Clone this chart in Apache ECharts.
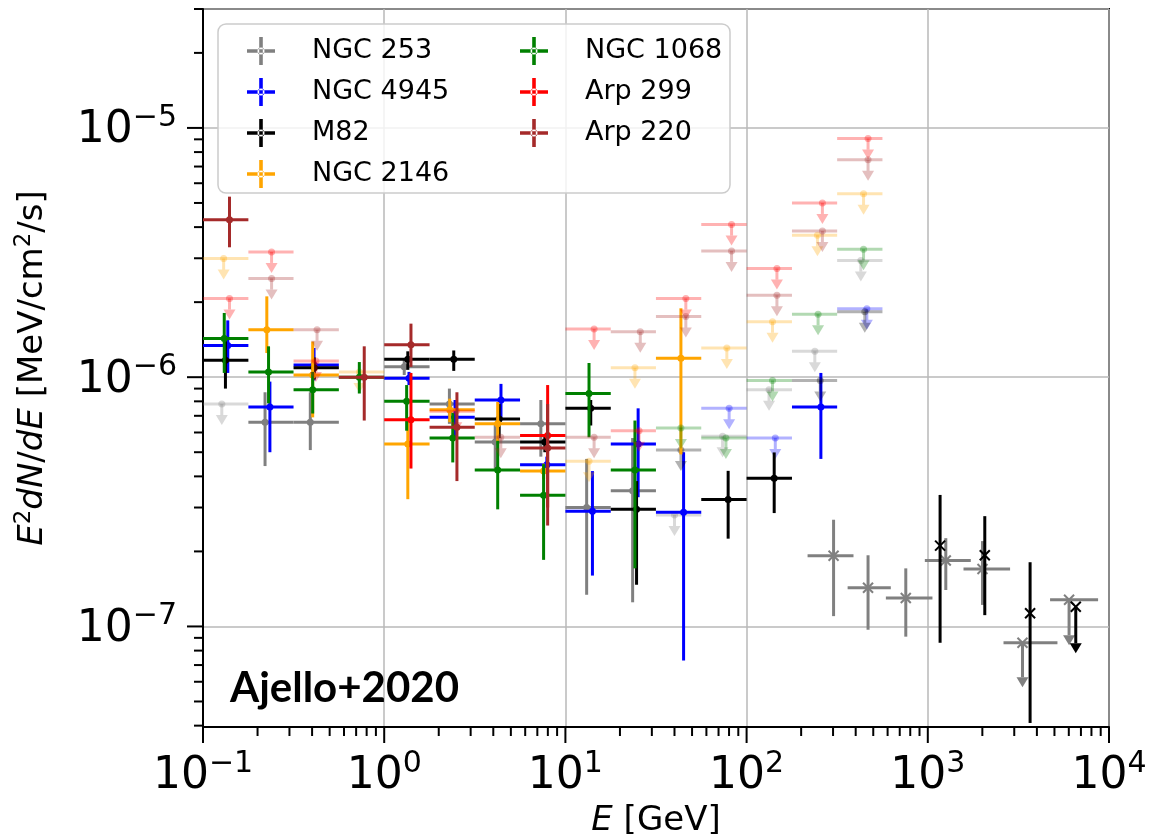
<!DOCTYPE html>
<html><head><meta charset="utf-8">
<script src="https://cdn.jsdelivr.net/npm/echarts@6.0.0/dist/echarts.min.js"></script>
<style>html,body{margin:0;padding:0;background:#fff}#c{width:1152px;height:834px}</style>
</head><body><div id="c"></div>
<script>
// ---------------- data ----------------
const seriesNames  = ['NGC 253','NGC 4945','M82','NGC 2146','NGC 1068','Arp 299','Arp 220'];
const seriesColors = ['#808080','#0000ff','#000000','#ffa500','#008000','#ff0000','#a52a2a'];
// Fermi-LAT energy bin edges [GeV]
const binEdges = [0.1,0.178,0.316,0.562,1,1.78,3.16,5.62,10,17.8,31.6,56.2,100,178,316,562];

// detections: [E (GeV), bin index, E2dN/dE, lower, upper]
const ngc253Det = [[0.220,1,6.6e-7,4.4e-7,8.7e-7],[0.391,2,6.6e-7,5.1e-7,8.7e-7],[1.29,4,1.10e-6,1.02e-6,1.18e-6],
  [2.29,5,7.8e-7,6.5e-7,9.0e-7],[4.10,6,5.5e-7,4.3e-7,6.5e-7],[7.32,7,6.5e-7,4.8e-7,8.1e-7],
  [13.1,8,3.0e-7,1.34e-7,4.7e-7],[23.5,9,3.5e-7,1.25e-7,5.7e-7]];
// upper limits: [E (GeV), bin index, E2dN/dE]
const ngc253UL = [[0.127,0,7.8e-7],[40,10,2.8e-7],[73.7,11,5.8e-7],[133,12,8.9e-7],[238,13,1.27e-6],[427,14,2.94e-6]];

const ngc4945Det = [[0.137,0,1.34e-6,1.04e-6,1.69e-6],[0.234,1,7.6e-7,5.0e-7,9.6e-7],[0.41,2,1.12e-6,9.7e-7,1.31e-6],
  [1.37,4,9.9e-7,9.3e-7,1.05e-6],[2.46,5,6.9e-7,5.7e-7,8.1e-7],[4.41,6,8.1e-7,6.8e-7,9.4e-7],
  [7.9,7,4.45e-7,4.1e-7,4.8e-7],[14.1,8,2.9e-7,1.6e-7,4.2e-7],[25.2,9,5.4e-7,3.3e-7,7.5e-7],
  [44.9,10,2.87e-7,7.3e-8,5.0e-7],[257,13,7.6e-7,4.7e-7,1.04e-6]];
const ngc4945UL = [[80.1,11,7.5e-7],[144,12,5.7e-7],[461,14,1.88e-6]];

const m82Det = [[0.133,0,1.17e-6,9.0e-7,1.45e-6],[0.411,2,1.09e-6,9.8e-7,1.2e-6],[1.35,4,1.18e-6,1.07e-6,1.27e-6],
  [2.42,5,1.18e-6,1.06e-6,1.28e-6],[4.31,6,6.8e-7,5.7e-7,7.8e-7],[7.7,7,5.5e-7,5.0e-7,5.9e-7],
  [13.8,8,7.5e-7,6.4e-7,8.1e-7],[24.7,9,2.95e-7,1.47e-7,3.83e-7],[79.1,11,3.23e-7,2.25e-7,4.21e-7],
  [142,12,3.93e-7,2.85e-7,4.99e-7]];
const m82UL = [[43.4,10,5.1e-7],[255,13,9.7e-7],[449,14,1.83e-6]];

const ngc2146Det = [[0.225,1,1.55e-6,1.25e-6,2.11e-6],[0.403,2,1.02e-6,6.9e-7,1.39e-6],[1.35,4,5.4e-7,3.24e-7,6.9e-7],
  [2.3,5,7.4e-7,6.6e-7,8.2e-7],[4.23,6,6.5e-7,5.5e-7,7.95e-7],[7.58,7,4.2e-7,3.9e-7,4.5e-7],
  [43.4,10,1.19e-6,4.9e-7,1.89e-6]];
const ngc2146UL = [[0.130,0,2.99e-6],[0.73,3,1.05e-6],[13.5,8,4.6e-7],[24.2,9,1.09e-6],[77.8,11,1.31e-6],
  [139,12,1.67e-6],[246,13,3.71e-6],[442,14,5.44e-6]];

const ngc1068Det = [[0.131,0,1.43e-6,1.04e-6,1.81e-6],[0.230,1,1.05e-6,7.85e-7,1.33e-6],[0.403,2,8.9e-7,7.15e-7,1.05e-6],
  [0.729,3,1.0e-6,8.6e-7,1.15e-6],[1.33,4,8.0e-7,6.1e-7,9.3e-7],[2.39,5,5.7e-7,4.55e-7,7.2e-7],
  [4.23,6,4.24e-7,2.95e-7,5.56e-7],[7.58,7,3.36e-7,1.85e-7,4.48e-7],[13.5,8,8.6e-7,5.74e-7,1.14e-6],
  [24.2,9,4.24e-7,1.71e-7,6.7e-7]];
const ngc1068UL = [[43.4,10,6.26e-7],[76.9,11,5.7e-7],[139,12,9.7e-7],[248,13,1.79e-6],[442,14,3.26e-6]];

const arp299Det = [[1.405,4,6.75e-7,4.3e-7,1.04e-6],[7.98,7,5.83e-7,3.0e-7,9.3e-7]];
const arp299UL = [[0.140,0,2.07e-6],[0.239,1,3.18e-6],[0.42,2,1.16e-6],[2.5,5,7.3e-7],[14.4,8,1.56e-6],[25.5,9,6.1e-7],
  [46.2,10,2.07e-6],[82.6,11,4.1e-6],[147,12,2.73e-6],[262,13,5.0e-6],[468,14,9.07e-6]];

const arp220Det = [[0.140,0,4.28e-6,3.32e-6,5.3e-6],[0.776,3,1.0e-6,6.7e-7,1.33e-6],[1.405,4,1.35e-6,1.1e-6,1.64e-6],
  [2.52,5,6.3e-7,3.83e-7,8.7e-7],[7.98,7,5.2e-7,2.54e-7,7.8e-7]];
const arp220UL = [[0.239,1,2.49e-6],[0.426,2,1.55e-6],[4.4,6,5.74e-7],[14.4,8,5.74e-7],[25.9,9,1.52e-6],
  [46.2,10,1.75e-6],[82.6,11,3.21e-6],[147,12,2.13e-6],[262,13,3.86e-6],[468,14,7.45e-6]];

// TeV points (x markers): [E, Elo, Ehi, F, Flo, Fhi]
const ngc253TeV = [[302,217,389,1.92e-7,1.10e-7,2.68e-7],[468,361,625,1.43e-7,9.7e-8,1.93e-7],
  [756,587,1061,1.30e-7,9.1e-8,1.71e-7],[1257,963,1727,1.84e-7,1.40e-7,2.26e-7],[2004,1574,2845,1.70e-7,1.22e-7,2.20e-7]];
// TeV upper limits: [E, Elo, Ehi, F, arrow end]
const ngc253TeVUL = [[3331,2617,5194,8.6e-8,5.7e-8],[6021,4729,8705,1.28e-7,8.4e-8]];
// M82 TeV points: [E, F, Flo, Fhi]
const m82TeV = [[1169,2.11e-7,8.6e-8,3.37e-7],[2063,1.93e-7,1.11e-7,2.77e-7],[3669,1.13e-7,4.1e-8,1.81e-7]];
const m82TeVUL = [[6555,1.2e-7,7.8e-8]];

// axes
const xMin = 0.1, xMax = 1e4, yMin = 3.95e-8, yMax = 3.0e-5;
const xMajorTicks = [0.1,1,10,100,1000,10000];
const xMinorTicks = [0.2,0.3,0.4,0.5,0.6,0.7,0.8,0.9,2,3,4,5,6,7,8,9,20,30,40,50,60,70,80,90,
  200,300,400,500,600,700,800,900,2000,3000,4000,5000,6000,7000,8000,9000];
const yMajorTicks = [1e-7,1e-6,1e-5];
const yMinorTicks = [4e-8,5e-8,6e-8,7e-8,8e-8,9e-8,2e-7,3e-7,4e-7,5e-7,6e-7,7e-7,8e-7,9e-7,
  2e-6,3e-6,4e-6,5e-6,6e-6,7e-6,8e-6,9e-6,2e-5,3e-5];

// ---------------- build ----------------
const FONT = 'DejaVu Sans';
const detList = [ngc253Det, ngc4945Det, m82Det, ngc2146Det, ngc1068Det, arp299Det, arp220Det];
const ulList  = [ngc253UL, ngc4945UL, m82UL, ngc2146UL, ngc1068UL, arp299UL, arp220UL];

function fermiRows(det, ul) {
  const rows = [];
  det.forEach(d => rows.push([d[0], binEdges[d[1]], binEdges[d[1]+1], d[2], d[3], d[4], 0]));
  ul.forEach(u => rows.push([u[0], binEdges[u[1]], binEdges[u[1]+1], u[2], u[2], u[2], 1]));
  return rows;
}

function renderErr(params, api) {
  const E = api.value(0), El = api.value(1), Eh = api.value(2);
  const F = api.value(3), Fl = api.value(4), Fh = api.value(5), kind = api.value(6);
  const c = api.visual('color');
  const p = api.coord([E, F]);
  const op = kind === 1 ? 0.3 : 1;
  const lw = 3;
  const ch = [];
  if (El !== Eh) {
    const a = api.coord([El, F]), b = api.coord([Eh, F]);
    ch.push({type:'line', shape:{x1:a[0], y1:p[1], x2:b[0], y2:p[1]}, style:{stroke:c, lineWidth:lw, opacity:op}});
  }
  if (kind === 0 || kind === 2) {
    const lo = api.coord([E, Fl])[1], hi = api.coord([E, Fh])[1];
    ch.push({type:'line', shape:{x1:p[0], y1:lo, x2:p[0], y2:hi}, style:{stroke:c, lineWidth:lw, opacity:op}});
  } else {
    const end = kind === 1 ? p[1] + 21 : api.coord([E, Fl])[1];
    const head = 10, hw = 6;
    ch.push({type:'line', shape:{x1:p[0], y1:p[1], x2:p[0], y2:end - head}, style:{stroke:c, lineWidth:lw, opacity:op}});
    ch.push({type:'polygon', shape:{points:[[p[0]-hw, end-head],[p[0]+hw, end-head],[p[0], end]]}, style:{fill:c, opacity:op}});
  }
  if (kind <= 1) {
    ch.push({type:'circle', shape:{cx:p[0], cy:p[1], r:3.5}, style:{fill:c, opacity:op}});
  } else {
    const s = 5;
    ch.push({type:'line', shape:{x1:p[0]-s, y1:p[1]-s, x2:p[0]+s, y2:p[1]+s}, style:{stroke:c, lineWidth:2}});
    ch.push({type:'line', shape:{x1:p[0]-s, y1:p[1]+s, x2:p[0]+s, y2:p[1]-s}, style:{stroke:c, lineWidth:2}});
  }
  return {type:'group', children: ch};
}

const series = [];
seriesNames.forEach((name, i) => {
  series.push({
    name, type:'custom', coordinateSystem:'cartesian2d', renderItem: renderErr,
    itemStyle:{color: seriesColors[i]}, encode:{x:[0,1,2], y:[3,4,5]},
    data: fermiRows(detList[i], ulList[i]), silent:true, z: 2
  });
});
const hessRows = ngc253TeV.map(d => [d[0], d[1], d[2], d[3], d[4], d[5], 2])
  .concat(ngc253TeVUL.map(u => [u[0], u[1], u[2], u[3], u[4], u[3], 3]));
series.push({name:'NGC 253 TeV', type:'custom', coordinateSystem:'cartesian2d', renderItem: renderErr,
  itemStyle:{color:'#808080'}, encode:{x:[0,1,2], y:[3,4,5]}, data: hessRows, silent:true, z:2});
const veritasRows = m82TeV.map(d => [d[0], d[0], d[0], d[1], d[2], d[3], 2])
  .concat(m82TeVUL.map(u => [u[0], u[0], u[0], u[1], u[2], u[1], 3]));
series.push({name:'M82 TeV', type:'custom', coordinateSystem:'cartesian2d', renderItem: renderErr,
  itemStyle:{color:'#000000'}, encode:{x:[0,1,2], y:[3,4,5]}, data: veritasRows, silent:true, z:2});

// tick marks (major + minor, matplotlib style)
const tickRows = [];
yMajorTicks.forEach(v => tickRows.push([xMin, v, 0]));
yMinorTicks.forEach(v => tickRows.push([xMin, v, 1]));
xMajorTicks.forEach(v => tickRows.push([v, yMin, 2]));
xMinorTicks.forEach(v => tickRows.push([v, yMin, 3]));
series.push({name:'ticks', type:'custom', coordinateSystem:'cartesian2d', clip:false, silent:true, z:5,
  encode:{x:0, y:1}, data: tickRows,
  renderItem(params, api) {
    const k = api.value(2);
    const p = api.coord([api.value(0), api.value(1)]);
    const len = (k === 0 || k === 2) ? 16 : 9;
    if (k < 2) return {type:'line', shape:{x1:p[0]-len, y1:p[1], x2:p[0], y2:p[1]}, style:{stroke:'#000', lineWidth:2}};
    return {type:'line', shape:{x1:p[0], y1:p[1], x2:p[0], y2:p[1]+len}, style:{stroke:'#000', lineWidth:2}};
  }});

function powLabel(v) {
  const l = Math.log10(v), e = Math.round(l);
  if (Math.abs(l - e) > 1e-6) return '';
  return '{b|10}{s|' + (e < 0 ? '\u2212' + (-e) : e) + '}';
}
const labelRich = {
  b: {fontFamily: FONT, fontSize: 44, lineHeight: 50, verticalAlign: 'bottom', color: '#000'},
  s: {fontFamily: FONT, fontSize: 30, lineHeight: 30, verticalAlign: 'top', color: '#000'}
};
const crossIcon = 'path://M0,12.2H28V15.8H0Z M12.2,0H15.8V28H12.2Z M10.5,14a3.5,3.5 0 1,0 7,0a3.5,3.5 0 1,0 -7,0Z';
const legendBase = {
  orient:'vertical', top: 32, itemWidth: 28, itemHeight: 28, itemGap: 13, icon: crossIcon,
  textStyle: {fontFamily: FONT, fontSize: 27, color:'#000', lineHeight: 28, padding:[0,0,0,32]},
  selectedMode: false
};

const option = {
  animation: false,
  backgroundColor: '#fff',
  grid: {left: 203, right: 43, top: 9, bottom: 107, containLabel: false, outerBoundsMode: 'none',
         show: true, borderColor: '#000', borderWidth: 2, backgroundColor: 'transparent'},
  xAxis: {
    type:'log', logBase:10, min:xMin, max:xMax,
    name:'{i|E} [GeV]', nameLocation:'middle', nameGap: 63,
    nameTextStyle:{fontFamily:FONT, fontSize:34, color:'#000', rich:{i:{fontFamily:FONT, fontStyle:'italic', fontSize:34, color:'#000'}}},
    axisLine:{show:true, lineStyle:{color:'#000', width:2}},
    axisTick:{show:false}, minorTick:{show:false},
    axisLabel:{formatter: powLabel, rich: labelRich, margin: 22, showMinLabel:true, showMaxLabel:true, hideOverlap:false},
    splitLine:{show:true, lineStyle:{color:'#b8b8b8', width:1.5}}
  },
  yAxis: {
    type:'log', logBase:10, min:yMin, max:yMax,
    name:'{i|E}{s|2}{i|dN}/{i|dE} [MeV/cm{s|2}/s]', nameLocation:'middle', nameGap: 150, nameRotate: 90,
    nameTextStyle:{fontFamily:FONT, fontSize:34, color:'#000', lineHeight:40,
      rich:{i:{fontFamily:FONT, fontStyle:'italic', fontSize:34, lineHeight:40, color:'#000'},
            s:{fontFamily:FONT, fontSize:23, lineHeight:24, verticalAlign:'top', color:'#000'}}},
    axisLine:{show:true, lineStyle:{color:'#000', width:2}},
    axisTick:{show:false}, minorTick:{show:false},
    axisLabel:{formatter: powLabel, rich: labelRich, margin: 26, hideOverlap:false},
    splitLine:{show:true, lineStyle:{color:'#b8b8b8', width:1.5}}
  },
  legend: [
    Object.assign({}, legendBase, {left: 242, data: seriesNames.slice(0,4)}),
    Object.assign({}, legendBase, {left: 515, data: seriesNames.slice(4)})
  ],
  graphic: [
    {type:'rect', z: 3, shape:{x:218, y:24, width:512, height:169, r:8},
     style:{fill:'rgba(255,255,255,0.8)', stroke:'#cccccc', lineWidth:1.5}},
    {type:'text', z: 6, x: 230, y: 688,
     style:{text:'Ajello+2020', font:'bold 42px Lato', fill:'#000', textVerticalAlign:'middle'}}
  ],
  series
};
const chart = echarts.init(document.getElementById('c'));
chart.setOption(option);
</script>
</body></html>
